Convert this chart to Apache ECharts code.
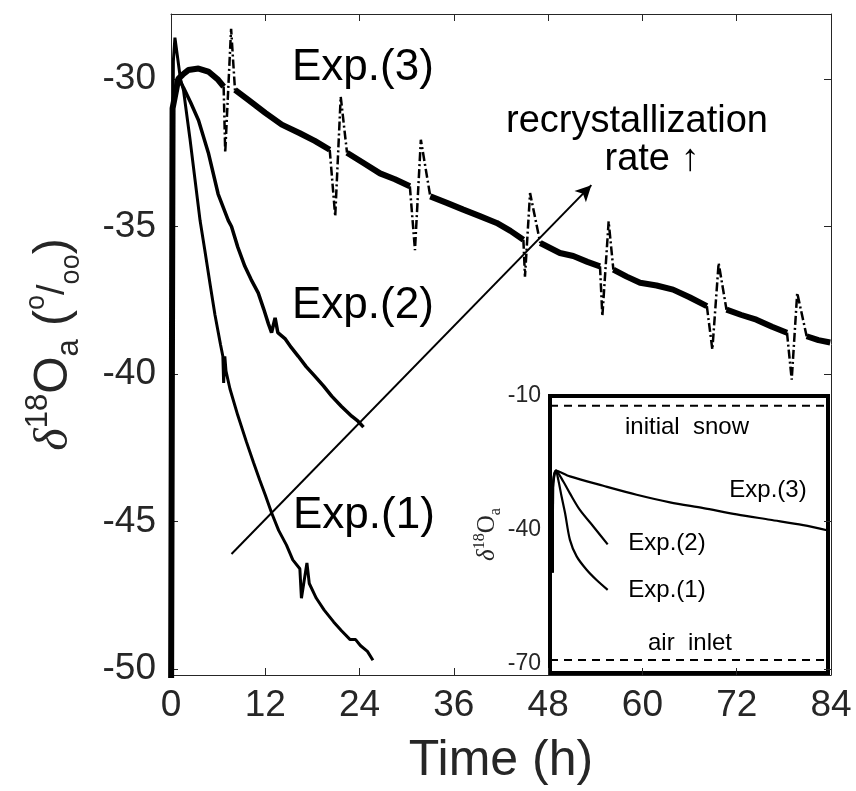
<!DOCTYPE html>
<html><head><meta charset="utf-8">
<script src="https://cdn.jsdelivr.net/npm/echarts@6/dist/echarts.min.js"></script>
<style>html,body{margin:0;padding:0;background:#fff}#c{width:856px;height:791px}</style>
</head><body><div id="c"></div>
<script>
// ---- axis ticks ----
const xTicks = [0, 12, 24, 36, 48, 60, 72, 84];
const yTicks = [-50, -45, -40, -35, -30];
const insetYTicks = [-70, -40, -10];

// ---- main measured series [time h, delta18O] ----
const exp1 = [[0,-52],[0.3,-29.4],[0.5,-28.6],[0.8,-29.2],[1.2,-30.0],[1.6,-30.4],[2.4,-32.0],[3.05,-33.4],[3.7,-34.8],[4.3,-35.8],[5.0,-37.0],[5.6,-38.0],[6.3,-39.0],[6.6,-39.4],[6.7,-40.3],[6.85,-39.4],[7.0,-39.9],[7.5,-40.5],[8.5,-41.4],[9.6,-42.3],[10.5,-43.0],[11.3,-43.6],[12.0,-44.1],[12.8,-44.7],[13.7,-45.3],[14.7,-45.8],[15.5,-46.3],[16.4,-46.6],[16.6,-47.6],[17.3,-46.4],[17.6,-47.1],[18.5,-47.6],[19.5,-48.0],[20.7,-48.4],[21.7,-48.7],[22.8,-49.0],[23.5,-49.0],[24.1,-49.2],[25.0,-49.4],[25.7,-49.7]];
const exp2 = [[0,-52],[0.15,-31],[1.0,-30.0],[1.6,-30.3],[2.5,-30.8],[3.5,-31.4],[4.75,-32.5],[6.0,-33.9],[7.3,-34.8],[7.7,-35.0],[8.5,-35.7],[9.4,-36.35],[10.2,-36.8],[11.1,-37.25],[11.8,-37.8],[12.4,-38.3],[12.8,-38.6],[13.25,-38.1],[13.6,-38.6],[14.5,-38.8],[15.3,-39.1],[16.2,-39.4],[17.2,-39.75],[18.3,-40.07],[19.4,-40.4],[20.45,-40.75],[21.7,-41.1],[23.0,-41.43],[23.8,-41.6],[24.5,-41.8]];
const exp3 = [[0,-52],[0.2,-31],[0.93,-30.0],[1.5,-29.85],[2.2,-29.7],[3.5,-29.65],[4.75,-29.75],[6.0,-30.03],[6.7,-30.26],[7.4,'-'],
  [8.15,-30.37],[9.8,-30.7],[12.0,-31.15],[14.1,-31.55],[16.4,-31.84],[18.3,-32.1],[20.2,-32.4],[21.2,'-'],
  [22.4,-32.5],[24.5,-32.85],[26.6,-33.2],[28.5,-33.4],[30.4,-33.64],[31.4,'-'],
  [33.0,-33.98],[35.1,-34.2],[37.2,-34.43],[39.3,-34.65],[41.45,-34.88],[43.2,-35.15],[44.85,-35.45],[45.5,'-'],
  [47.0,-35.56],[49.5,-35.9],[51.2,-36.0],[53.0,-36.2],[54.6,-36.35],[55.2,'-'],
  [56.3,-36.46],[58.0,-36.7],[59.7,-36.91],[61.8,-37.0],[63.9,-37.14],[66.0,-37.4],[68.2,-37.7],[69.3,'-'],
  [70.7,-37.82],[72.6,-38.0],[74.5,-38.16],[76.5,-38.4],[78.4,-38.6],[79.3,'-'],
  [80.9,-38.72],[82.4,-38.85],[83.9,-38.93]];
const exp3Spikes = [[6.7,-30.26],[6.9,-32.5],[7.65,-28.3],[8.15,-30.4],[8.2,'-'],
  [20.2,-32.4],[20.9,-34.66],[21.6,-30.6],[22.4,-32.5],[22.5,'-'],
  [30.4,-33.64],[31.05,-35.8],[31.8,-32.06],[33.0,-33.98],[33.1,'-'],
  [44.85,-35.45],[45.05,-36.7],[45.7,-33.87],[47.0,-35.56],[47.1,'-'],
  [54.6,-36.35],[54.9,-38.04],[55.7,-34.83],[56.3,-36.46],[56.4,'-'],
  [68.2,-37.7],[68.9,-39.17],[69.7,-36.24],[70.7,-37.82],[70.8,'-'],
  [78.4,-38.6],[79.0,-40.19],[79.7,-37.25],[80.9,-38.72]];
const arrowStart = [7.7, -46.1];
const arrowEnd = [53.5, -33.6];

// ---- inset model series ----
const insetExp1 = [[1.2,-49.5],[1.3,-30.5],[2.6,-26.7],[3.6,-28.8],[5.0,-32.5],[6.5,-36.2],[8.6,-42.2],[11.5,-45.9],[15.8,-48.9],[20.1,-51.2],[24.9,-53.4]];
const insetExp2 = [[1.2,-49.5],[1.3,-30.5],[2.6,-26.7],[5.8,-29.2],[8.6,-31.8],[12.9,-35.5],[18.7,-39.2],[24.9,-43.2]];
const insetExp3 = [[1.2,-49.5],[1.3,-30.5],[2.6,-26.7],[8.6,-28.0],[23.0,-30.1],[37.4,-32.1],[51.8,-33.8],[66.2,-35.1],[80.6,-36.5],[95.0,-37.7],[109.3,-38.9],[120,-40.1]];
const initialSnow = [[0,-12.2],[120,-12.2]];
const airInlet = [[0,-69.1],[120,-69.1]];

const FONT = "'Liberation Sans', Arial, Helvetica, sans-serif";
const AX = '#262626';
const chart = echarts.init(document.getElementById('c'), null, {renderer: 'canvas'});

const mainX = {gridIndex:0, type:'value', min:0, max:84, interval:12,
  axisLine:{show:true, lineStyle:{color:AX, width:1}},
  axisTick:{show:true, inside:true, length:7, lineStyle:{color:AX}},
  axisLabel:{show:true, fontSize:37, color:AX, fontFamily:FONT, margin:12, customValues:xTicks},
  splitLine:{show:false},
  name:'Time (h)', nameLocation:'middle', nameGap:61,
  nameTextStyle:{fontSize:50, color:AX, fontFamily:FONT}};
const topX = {gridIndex:0, type:'value', position:'top', min:0, max:84, interval:12,
  axisLine:{show:true, lineStyle:{color:AX, width:1}},
  axisTick:{show:true, inside:true, length:7, lineStyle:{color:AX}},
  axisLabel:{show:false}, splitLine:{show:false}};
const mainY = {gridIndex:0, type:'value', min:-50.2, max:-27.8,
  axisLine:{show:true, onZero:false, lineStyle:{color:AX, width:1}},
  axisTick:{show:true, inside:true, length:7, lineStyle:{color:AX}, customValues:yTicks},
  axisLabel:{show:true, fontSize:37, color:AX, fontFamily:FONT, margin:15, customValues:yTicks},
  splitLine:{show:false},
  name:'{d|δ}{s|18}{o|O}{b|a}{o| (}{s2|o}{sl|/}{b2|oo}{o|)}',
  nameLocation:'middle', nameRotate:90, nameGap:86,
  nameTextStyle:{color:AX, fontFamily:FONT, fontSize:48,
    rich:{
      d:{fontSize:48, fontStyle:'italic', fontFamily:"'Liberation Serif', serif", color:AX, lineHeight:62},
      s:{fontSize:31, verticalAlign:'top', color:AX, fontFamily:FONT, lineHeight:32},
      o:{fontSize:48, color:AX, fontFamily:FONT, lineHeight:62},
      b:{fontSize:31, verticalAlign:'bottom', color:AX, fontFamily:FONT, lineHeight:32},
      s2:{fontSize:27, verticalAlign:'top', color:AX, fontFamily:FONT, lineHeight:32},
      sl:{fontSize:38, color:AX, fontFamily:FONT, lineHeight:62},
      b2:{fontSize:27, verticalAlign:'bottom', color:AX, fontFamily:FONT, lineHeight:32}
    }}};
const rightY = {gridIndex:0, type:'value', position:'right', min:-50.2, max:-27.8,
  axisLine:{show:true, onZero:false, lineStyle:{color:AX, width:1}},
  axisTick:{show:true, inside:true, length:7, lineStyle:{color:AX}, customValues:yTicks},
  axisLabel:{show:false}, splitLine:{show:false}};
const insetX = {gridIndex:1, type:'value', min:0, max:120, show:false};
const insetY = {gridIndex:1, type:'value', min:-72, max:-10,
  axisLine:{show:false}, axisTick:{show:false}, splitLine:{show:false},
  axisLabel:{show:true, fontSize:23, color:AX, fontFamily:FONT, margin:9, customValues:insetYTicks},
  name:'{d|δ}{s|18}{o|O}{b|a}', nameLocation:'middle', nameRotate:90, nameGap:40,
  nameTextStyle:{color:AX, fontSize:25,
    rich:{
      d:{fontSize:25, fontStyle:'italic', fontFamily:"'Liberation Serif', serif", color:AX, lineHeight:32},
      s:{fontSize:16, verticalAlign:'top', fontFamily:"'Liberation Serif', serif", color:AX, lineHeight:16},
      o:{fontSize:25, fontFamily:"'Liberation Serif', serif", color:AX, lineHeight:32},
      b:{fontSize:16, verticalAlign:'bottom', fontFamily:"'Liberation Serif', serif", color:AX, lineHeight:16}
    }}};

function lineSeries(data, xi, yi, width, type, extra) {
  return Object.assign({type:'line', data:data, xAxisIndex:xi, yAxisIndex:yi, showSymbol:false, symbol:'none',
    connectNulls:false, clip:true, animation:false, silent:true,
    lineStyle:{color:'#000', width:width, type:type || 'solid'}}, extra || {});
}

function txt(text, x, y, size, align) {
  return {type:'text', x:x, y:y, silent:true, z:100,
    style:{text:text, fontSize:size, fontFamily:FONT, fill:'#000', align:align || 'left', verticalAlign:'middle'}};
}

chart.setOption({
  backgroundColor:'#fff',
  animation:false,
  grid:[
    {left:171, top:14, right:25, bottom:115, show:false},
    {left:550, top:396, width:278, height:277, show:true, borderColor:'#000', borderWidth:4, backgroundColor:'transparent'}
  ],
  xAxis:[mainX, topX, insetX],
  yAxis:[mainY, rightY, insetY],
  series:[
    lineSeries(exp1, 0, 0, 3),
    lineSeries(exp2, 0, 0, 3.5),
    lineSeries(exp3, 0, 0, 6),
    lineSeries(exp3Spikes, 0, 0, 2.5, [9,3,2,3]),
    lineSeries([], 0, 0, 2, 'solid', {markLine:{silent:true, animation:false, symbol:['none','arrow'], symbolSize:[12,16],
      label:{show:false}, lineStyle:{color:'#000', width:2, type:'solid'},
      data:[[{coord:arrowStart}, {coord:arrowEnd}]]}}),
    lineSeries(insetExp1, 2, 2, 2.2, 'solid', {smooth:0.3}),
    lineSeries(insetExp2, 2, 2, 2.2, 'solid', {smooth:0.3}),
    lineSeries(insetExp3, 2, 2, 2.2, 'solid', {smooth:0.3}),
    lineSeries(initialSnow, 2, 2, 2, [8,6]),
    lineSeries(airInlet, 2, 2, 2, [8,6])
  ],
  graphic:[
    txt('Exp.(3)', 292, 68, 44),
    txt('Exp.(2)', 292, 306, 44),
    txt('Exp.(1)', 293, 516, 44),
    txt('recrystallization', 637, 122, 38, 'center'),
    txt('rate \u2191', 652, 160, 38, 'center'),
    txt('initial  snow', 687, 427, 24, 'center'),
    txt('Exp.(3)', 768, 490, 24, 'center'),
    txt('Exp.(2)', 667, 543, 24, 'center'),
    txt('Exp.(1)', 667, 590, 24, 'center'),
    txt('air  inlet', 690, 643, 24, 'center')
  ]
});
</script></body></html>
